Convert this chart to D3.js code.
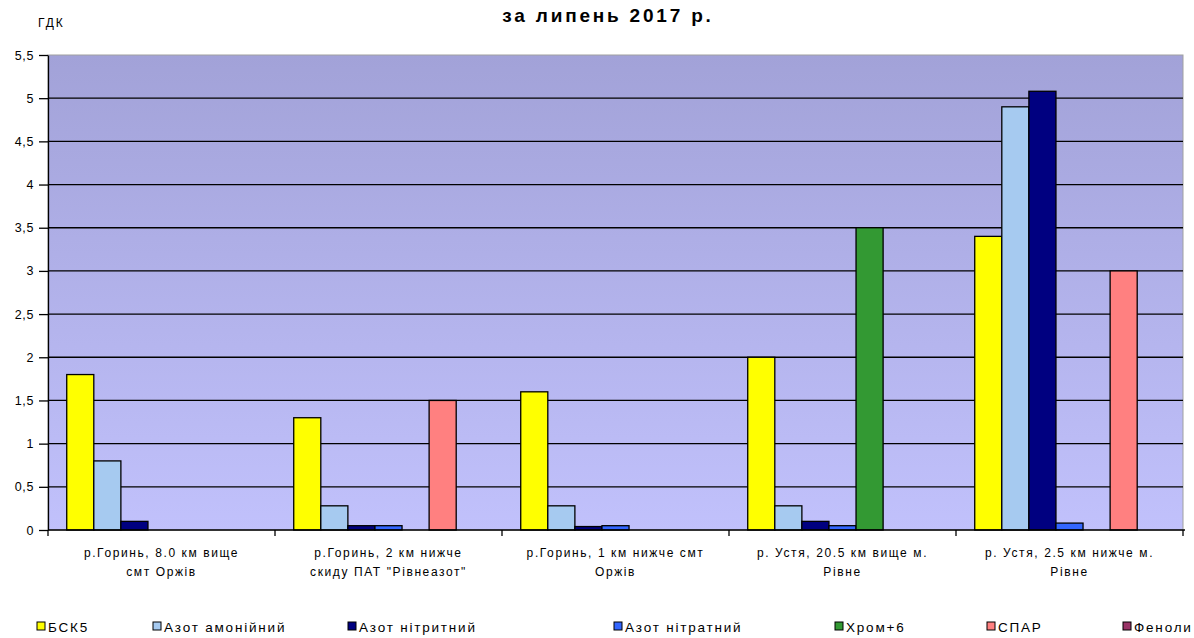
<!DOCTYPE html>
<html>
<head>
<meta charset="utf-8">
<script src="https://cdn.jsdelivr.net/npm/d3@7"></script>
<style>
  body { margin: 0; background: #fff; }
  svg { display: block; font-family: "Liberation Sans", Arial, sans-serif; }
</style>
</head>
<body>
<svg id="chart" width="1194" height="638"></svg>
<script>
// sampling points (two lines of label each)
const categories = [
  ["р.Горинь, 8.0 км вище", "смт Оржів"],
  ["р.Горинь, 2 км нижче", "скиду ПАТ \"Рівнеазот\""],
  ["р.Горинь, 1 км нижче смт", "Оржів"],
  ["р. Устя, 20.5 км вище м.", "Рівне"],
  ["р. Устя, 2.5 км нижче м.", "Рівне"]
]
const seriesNames = ["БСК5", "Азот амонійний", "Азот нітритний", "Азот нітратний", "Хром+6", "СПАР", "Феноли"]
const seriesColors = ["#ffff00", "#a6caf0", "#000080", "#3366ff", "#339933", "#ff8080", "#993366"]

// values in ГДК units, one array per series, by category
const bsk5     = [1.8, 1.3, 1.6, 2.0, 3.4]
const ammonium = [0.8, 0.28, 0.28, 0.28, 4.9]
const nitrite  = [0.1, 0.05, 0.04, 0.1, 5.08]
const nitrate  = [0, 0.05, 0.05, 0.05, 0.08]
const chrome   = [0, 0, 0, 3.5, 0]
const spar     = [0, 1.5, 0, 0, 3.0]
const phenols  = [0, 0, 0, 0, 0]
const seriesValues = [bsk5, ammonium, nitrite, nitrate, chrome, spar, phenols]

const yTicks = [0, 0.5, 1, 1.5, 2, 2.5, 3, 3.5, 4, 4.5, 5, 5.5]

const svg = d3.select("#chart")
const plotL = 48, plotR = 1183, plotT = 55, plotB = 530

// background gradient of plot area
const grad = svg.append("defs").append("linearGradient")
  .attr("id", "bg").attr("x1", 0).attr("y1", 0).attr("x2", 0).attr("y2", 1)
grad.append("stop").attr("offset", "0%").attr("stop-color", "#a2a2d8")
grad.append("stop").attr("offset", "100%").attr("stop-color", "#c1c1fc")

svg.append("rect")
  .attr("x", plotL).attr("y", plotT)
  .attr("width", plotR - plotL).attr("height", plotB - plotT)
  .attr("fill", "url(#bg)")
  .attr("stroke", "#a0a0a0").attr("stroke-width", 1)

let x0 = d3.scaleBand()
  .domain(d3.range(categories.length))
  .range([plotL, plotR])
  .paddingInner(0.165)
  .paddingOuter(0.0825)

let x1 = d3.scaleBand()
  .domain(d3.range(seriesNames.length))
  .range([0, x0.bandwidth()])

let y = d3.scaleLinear().domain([0, 5.5]).range([plotB, plotT])

// gridlines
svg.append("g")
  .selectAll("line")
  .data(yTicks.filter(d => d > 0 && d < 5.5))
  .enter().append("line")
  .attr("x1", plotL).attr("x2", plotR)
  .attr("y1", d => y(d)).attr("y2", d => y(d))
  .attr("stroke", "#000").attr("stroke-width", 1.3)

// bars
let bars = []
categories.forEach((c, ci) => {
  seriesValues.forEach((vals, si) => {
    if (vals[ci] > 0) bars.push({ci: ci, si: si, v: vals[ci]})
  })
})

svg.append("g")
  .selectAll("rect")
  .data(bars).enter()
  .append("rect")
  .attr("x", d => x0(d.ci) + x1(d.si))
  .attr("y", d => y(d.v))
  .attr("width", x1.bandwidth())
  .attr("height", d => y(0) - y(d.v))
  .attr("fill", d => seriesColors[d.si])
  .attr("stroke", "#000").attr("stroke-width", 1.3)

// y axis
const yAxis = svg.append("g")
  .attr("transform", `translate(${plotL},0)`)
  .call(d3.axisLeft(y).tickValues(yTicks).tickSize(9).tickSizeOuter(0)
    .tickFormat(d => String(d).replace(".", ",")))
yAxis.select(".domain").attr("stroke", "#000").attr("stroke-width", 1.3)
yAxis.selectAll(".tick line").attr("stroke", "#000").attr("stroke-width", 1.3)
yAxis.selectAll(".tick text")
  .attr("font-size", 12.5).attr("fill", "#000").attr("x", -14)
  .attr("letter-spacing", 0.6)
  .attr("font-family", "Liberation Sans, Arial, sans-serif")

// x axis with ticks at category boundaries
const step = x0.step()
const xEdges = d3.range(categories.length + 1).map(i => plotL + i * step)
svg.append("line")
  .attr("x1", plotL).attr("x2", plotR + 2)
  .attr("y1", plotB).attr("y2", plotB)
  .attr("stroke", "#000").attr("stroke-width", 1.3)
svg.append("g")
  .selectAll("line")
  .data(xEdges).enter()
  .append("line")
  .attr("x1", d => d).attr("x2", d => d)
  .attr("y1", plotB).attr("y2", plotB + 6)
  .attr("stroke", "#000").attr("stroke-width", 1.3)

// category labels
const labels = svg.append("g")
  .selectAll("text")
  .data(categories).enter()
  .append("text")
  .attr("text-anchor", "middle")
  .attr("font-size", 12)
  .attr("letter-spacing", 1.6)
  .attr("fill", "#000")
labels.each(function(d, i) {
  const cx = x0(i) + x0.bandwidth() / 2
  d.forEach((line, li) => {
    d3.select(this).append("tspan")
      .attr("x", cx).attr("y", 557 + li * 19)
      .text(line)
  })
})

// title and axis caption
svg.append("text")
  .attr("x", 608).attr("y", 22)
  .attr("text-anchor", "middle")
  .attr("font-size", 19).attr("font-weight", "bold")
  .attr("letter-spacing", 2.8)
  .text("за липень 2017 р.")

svg.append("text")
  .attr("x", 38).attr("y", 27)
  .attr("font-size", 12).attr("letter-spacing", 2)
  .text("ГДК")

// legend
const legendX = [37, 153, 348, 614, 835, 987, 1123]
const legend = svg.append("g")
  .selectAll("g")
  .data(seriesNames).enter()
  .append("g")
  .attr("transform", (d, i) => `translate(${legendX[i]},622)`)
legend.append("rect")
  .attr("width", 8).attr("height", 8)
  .attr("fill", (d, i) => seriesColors[i])
  .attr("stroke", "#000").attr("stroke-width", 1)
legend.append("text")
  .attr("x", 11).attr("y", 9.5)
  .attr("font-size", 13.5).attr("letter-spacing", 1.8)
  .text(d => d)
</script>
</body>
</html>
